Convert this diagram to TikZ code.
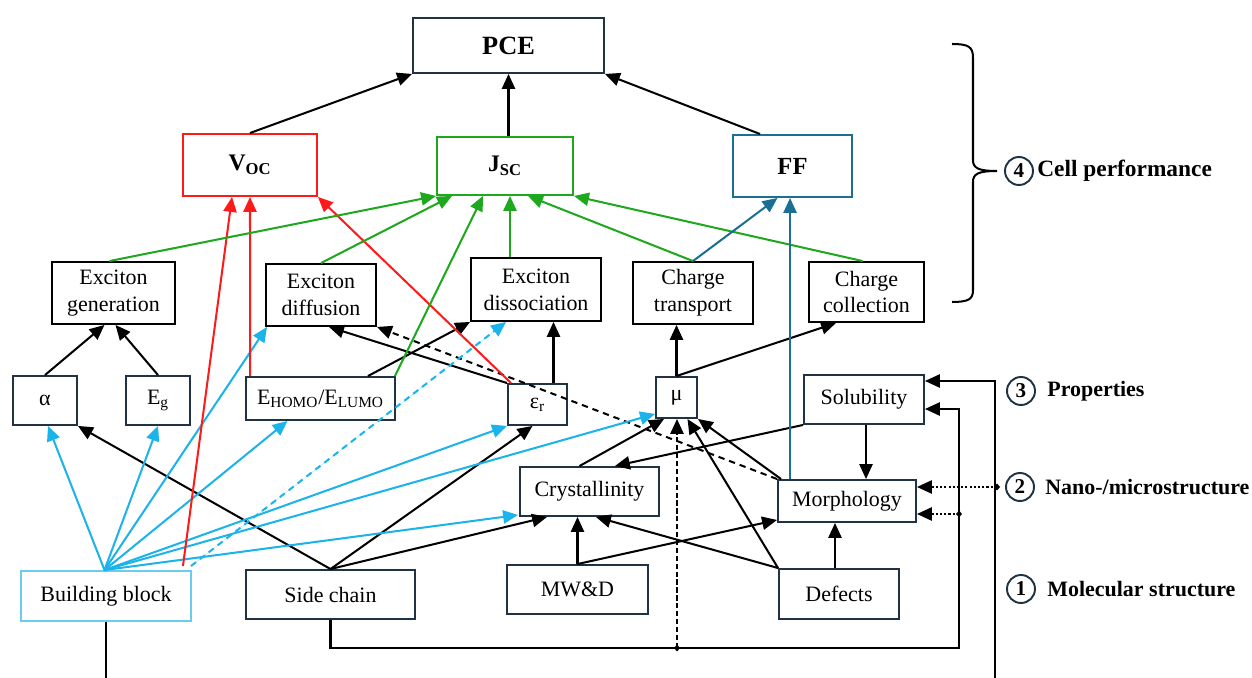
\documentclass[tikz,border=0pt]{standalone}
\usepackage{fontspec}
\setmainfont{Liberation Serif}
\usetikzlibrary{arrows.meta,calc}
\definecolor{boxc}{HTML}{1F3344}
\definecolor{cblue}{HTML}{1CB2EA}
\definecolor{lblue}{HTML}{6ACDEE}
\definecolor{cred}{HTML}{FF1A1A}
\definecolor{cgreen}{HTML}{1EA81E}
\definecolor{cteal}{HTML}{1A6F92}
\newcommand{\boxfont}{\fontsize{12.5}{15.2}\selectfont}
\begin{document}
\begin{tikzpicture}[x=0.02cm,y=-0.02cm,
  box/.style={draw=boxc, line width=1.1pt, inner sep=0pt, align=center, font=\boxfont},
  bigbox/.style={box, font=\bfseries\fontsize{13.5}{16}\selectfont},
  arr/.style={line width=1.15pt, -{Triangle[length=8.5pt,width=7.5pt]}},
  plain/.style={line width=1.15pt},
  barr/.style={arr, draw=cblue, fill=cblue},
  rarr/.style={arr, draw=cred, fill=cred},
  garr/.style={arr, draw=cgreen, fill=cgreen},
  tarr/.style={arr, draw=cteal, fill=cteal},
  dsh/.style={dash pattern=on 3.6pt off 2.8pt},
  dtt/.style={dash pattern=on 1.2pt off 1.2pt},
  numc/.style={circle, draw=boxc, line width=1.1pt, minimum size=0.56cm, inner sep=0pt, font=\bfseries\fontsize{12}{14}\selectfont},
  lab/.style={anchor=west, inner sep=0pt, font=\bfseries\fontsize{12.5}{15}\selectfont}
]
\useasboundingbox (0,0) rectangle (1252,678);

% top level
\node[bigbox, minimum width=3.82cm, minimum height=1.1cm, font=\bfseries\fontsize{15}{18}\selectfont] (pce) at (508.5,45.5) {PCE};
\node[bigbox, draw=cred, minimum width=2.68cm, minimum height=1.24cm] (voc) at (250,165) {V\textsubscript{OC}};
\node[bigbox, draw=cgreen, minimum width=2.72cm, minimum height=1.16cm] (jsc) at (505,166) {J\textsubscript{SC}};
\node[bigbox, draw=cteal, minimum width=2.38cm, minimum height=1.24cm, font=\bfseries\fontsize{14}{16}\selectfont] (ff) at (792.5,166) {FF};

% processes
\node[box, draw=black, minimum width=2.46cm, minimum height=1.24cm] (exgen) at (113.5,293) {Exciton\\generation};
\node[box, draw=black, minimum width=2.2cm, minimum height=1.24cm] (exdif) at (321,295) {Exciton\\diffusion};
\node[box, draw=black, minimum width=2.6cm, minimum height=1.26cm] (exdis) at (536,289.5) {Exciton\\dissociation};
\node[box, draw=black, minimum width=2.4cm, minimum height=1.24cm] (ctr) at (693,293) {Charge\\transport};
\node[box, draw=black, minimum width=2.3cm, minimum height=1.2cm] (ccol) at (866.5,292) {Charge\\collection};

% properties
\node[box, minimum width=1.28cm, minimum height=0.98cm] (alpha) at (45,400.5) {α};
\node[box, minimum width=1.28cm, minimum height=0.98cm] (eg) at (158,400.5) {E\textsubscript{g}};
\node[box, minimum width=2.98cm, minimum height=0.86cm] (ehomo) at (320.5,398.5) {E\textsubscript{HOMO}/E\textsubscript{LUMO}};
\node[box, minimum width=1.18cm, minimum height=0.82cm] (eps) at (537.5,404.5) {ε\textsubscript{r}};
\node[box, minimum width=0.82cm, minimum height=0.82cm] (mu) at (676.5,397.5) {μ};
\node[box, minimum width=2.4cm, minimum height=0.98cm] (sol) at (864,399.5) {Solubility};

% nano/micro
\node[box, minimum width=2.78cm, minimum height=0.98cm] (cry) at (589.5,491.5) {Crystallinity};
\node[box, minimum width=2.76cm, minimum height=0.84cm] (mor) at (847,501) {Morphology};

% molecular structure
\node[box, draw=lblue, minimum width=3.4cm, minimum height=1.0cm] (bb) at (106,596) {Building block};
\node[box, minimum width=3.38cm, minimum height=0.98cm] (sc) at (330.5,594.5) {Side chain};
\node[box, minimum width=2.82cm, minimum height=0.98cm] (mwd) at (577.5,589.5) {MW\&D};
\node[box, minimum width=2.4cm, minimum height=1.0cm] (def) at (839,594) {Defects};

% right labels
\draw[line width=1.15pt] (952,44) .. controls (969,44) and (973,47) .. (973,58) -- (973,160)
  .. controls (973,168) and (978,171) .. (997,171)
  .. controls (978,171) and (973,174) .. (973,182) -- (973,290)
  .. controls (973,299) and (969,302) .. (952,302);
\node[numc] (n4) at (1019,171) {4};
\node[lab, font=\bfseries\fontsize{13.3}{16}\selectfont] (l4) at (1037,171) {Cell performance};
\node[numc] (n3) at (1021,391) {3};
\node[lab] (l3) at (1047,391) {Properties};
\node[numc] (n2) at (1020,487) {2};
\node[lab] (l2) at (1045,487) {Nano-/microstructure};
\node[numc] (n1) at (1021,589) {1};
\node[lab] (l1) at (1047,589) {Molecular structure};

% black connectors
\draw[arr] (voc.north) -- (pce.south west);
\draw[arr] (pce.south |- jsc.north) -- (pce.south);
\draw[arr] ($(ff.north west)+(28,0)$) -- (pce.south east);
\draw[arr] (alpha.north) -- ($(exgen.south)+(-9,0)$);
\draw[arr] (eg.north) -- ($(exgen.south)+(2,0)$);
\draw[arr] (sc.north) -- (alpha.south east);
\draw[arr] (sc.north) -- ($(eps.south)+(-5,0)$);
\draw[arr] (sc.north) -- ($(cry.south west)+(28,0)$);
\draw[arr] ($(ehomo.north east)+(-28,0)$) -- (exdis.south west);
\draw[arr] (eps.north west) -- ($(exdif.south)+(8,0)$);
\coordinate (e1) at ($(eps.north)+(16,0)$);
\draw[arr] (e1) -- (e1 |- exdis.south);
\draw[arr] (mu.north) -- (mu.north |- ctr.south);
\draw[arr] (mu.north) -- ($(ccol.south west)+(28,0)$);
\draw[arr] ($(cry.north)+(-10,0)$) -- ($(mu.south west)+(9,0)$);
\draw[arr, dsh] (mor.north west) -- (exdif.south east);
\draw[arr] ($(mor.north west)+(4,0)$) -- (mu.south east);
\draw[arr] (def.north west) -- ($(mu.south)+(11,0)$);
\draw[arr] (sol.south west) -- ($(cry.north east)+(-45,0)$);
\coordinate (s1) at ($(sol.south)+(2,0)$);
\draw[arr] (s1) -- (s1 |- mor.north);
\draw[arr] (mwd.north) -- (mwd.north |- cry.south);
\draw[arr] (mwd.north) -- ($(mor.south west)+(0,-3)$);
\draw[arr] (def.north west) -- ($(cry.south east)+(-64,0)$);
\coordinate (d1) at ($(def.north)+(-4,0)$);
\draw[arr] (d1) -- (d1 |- mor.south);

% feedback lines
\coordinate (dv) at (677,648);
\coordinate (r1) at (959,648);
\coordinate (r2) at (995,678);
\coordinate (q1) at (997,487);
\coordinate (q2) at (959,514);
\draw[arr, dash pattern=on 3pt off 1.5pt] (dv) -- (dv |- mu.south);
\draw[arr] (sc.south) |- (r1) |- ($(sol.east)+(0,9.5)$);
\draw[plain] (bb.south) -- (bb.south |- r2);
\draw[arr] (r2) |- ($(sol.east)+(0,-18.5)$);
\draw[arr, dtt] (q1) -- (mor.east |- q1);
\draw[arr, dtt] (q2) -- (mor.east |- q2);
\fill (dv) +(-3,0) -- +(0,-3.5) -- +(3,0) -- +(0,3.5) -- cycle;
\fill (q1) +(-3,0) -- +(0,-3.5) -- +(3,0) -- +(0,3.5) -- cycle;
\fill (q2) +(-3,0) -- +(0,-3.5) -- +(3,0) -- +(0,3.5) -- cycle;

% blue connectors
\coordinate (bt) at ($(bb.north)+(-1.5,0)$);
\draw[barr] (bt) -- ($(alpha.south)+(3,0)$);
\draw[barr] (bt) -- (eg.south);
\draw[barr] (bt) -- ($(exdif.south west)+(2,0)$);
\draw[barr] (bt) -- ($(ehomo.south)+(-33,0)$);
\draw[barr] (bt) -- (eps.south west);
\draw[barr] (bt) -- ($(mu.south west)+(0,-5)$);
\draw[barr] (bt) -- ($(cry.south west)+(-1,-2)$);
\draw[barr, dsh] ($(bb.north east)+(-1,-4)$) -- ($(exdis.south west)+(36,0)$);

% red connectors
\draw[rarr] ($(bb.north east)+(-9,-4)$) -- ($(voc.south)+(-18,0)$);
\draw[rarr] ($(ehomo.north west)+(5,0)$) -- (voc.south);
\draw[rarr] ($(eps.north west)+(4,0)$) -- (voc.south east);

% green connectors
\draw[garr] ($(exgen.north)+(-4,0)$) -- (jsc.south west);
\draw[garr] (exdif.north) -- ($(jsc.south)+(-53,0)$);
\draw[garr] ($(ehomo.north east)+(-1,0)$) -- ($(jsc.south)+(-22,0)$);
\draw[garr] ($(exdis.north)+(-26,0)$) -- ($(jsc.south)+(5,0)$);
\draw[garr] (ctr.north) -- ($(jsc.south)+(23,0)$);
\draw[garr] ($(ccol.north)+(-4,0)$) -- (jsc.south east);

% teal connectors
\draw[tarr] (ctr.north) -- ($(ff.south)+(-15,0)$);
\coordinate (t1) at ($(mor.north west)+(13,0)$);
\draw[tarr] (t1) -- (t1 |- ff.south);
\end{tikzpicture}
\end{document}
